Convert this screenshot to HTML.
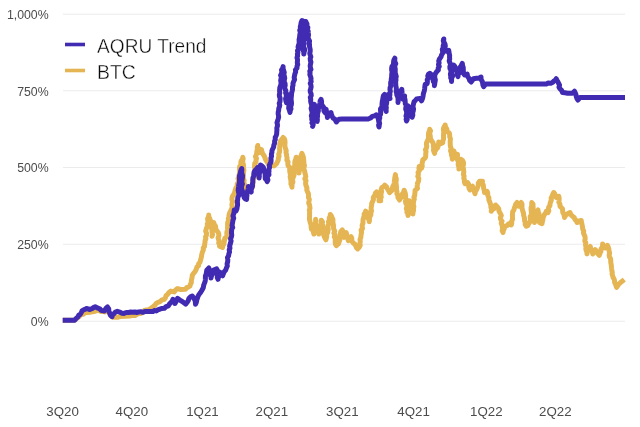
<!DOCTYPE html>
<html><head><meta charset="utf-8"><title>AQRU Trend vs BTC</title>
<style>
html,body{margin:0;padding:0;background:#fff;}
body{width:640px;height:427px;overflow:hidden;position:relative;font-family:"Liberation Sans",sans-serif;}
svg{position:absolute;left:0;top:0;display:block;}
text{font-family:"Liberation Sans",sans-serif;}
.ax{font-size:13.3px;fill:#4c4c4c;}
.ay{font-size:12.3px;}
.lg{font-size:20.5px;fill:#0a0a0a;stroke:#fff;stroke-width:0.4px;}
</style></head><body>
<svg width="640" height="427" viewBox="0 0 640 427">
<rect width="640" height="427" fill="#ffffff"/>
<g stroke="#ebebeb" stroke-width="1.1" fill="none">
<line x1="63" y1="14.3" x2="625" y2="14.3"/>
<line x1="63" y1="90.7" x2="625" y2="90.7"/>
<line x1="63" y1="167.5" x2="625" y2="167.5"/>
<line x1="63" y1="244.3" x2="625" y2="244.3"/>
<line x1="63" y1="321.2" x2="625" y2="321.2"/>
</g>
<g class="ax" text-anchor="end">
<text class="ay" x="48.6" y="19.1">1,000%</text>
<text class="ay" x="48.6" y="95.5">750%</text>
<text class="ay" x="48.6" y="172.3">500%</text>
<text class="ay" x="48.6" y="249.1">250%</text>
<text class="ay" x="48.6" y="326">0%</text>
</g>
<g class="ax" text-anchor="start">
<text x="46.35" y="415.7">3Q20</text>
<text x="115.5" y="415.7">4Q20</text>
<text x="186.2" y="415.7">1Q21</text>
<text x="255.5" y="415.7">2Q21</text>
<text x="326.1" y="415.7">3Q21</text>
<text x="397.35" y="415.7">4Q21</text>
<text x="470" y="415.7">1Q22</text>
<text x="539.1" y="415.7">2Q22</text>
</g>
<path d="M62.7 320.2 L74.7 320.2 L76.31 318.8 L78 317.5 L79.55 316.05 L81 314.5 L83.22 314.16 L85 312.8 L87.5 312.51 L90 312.3 L92 311.91 L94 311.5 L96.04 310.86 L98 310 L101 311.5 L103.05 311.34 L105 312 L108 311 L109.24 313.01 L110.5 315 L112.5 317 L114.25 317.17 L116 317 L118.05 317.13 L120 316.5 L125 316.3 L130 316 L132.45 315.22 L135 315.5 L136.57 314.6 L138.14 313.67 L140 313.5 L141.77 312.98 L143.27 311.97 L144.44 310.35 L146.3 310 L148.45 309.74 L150.34 308.89 L152 307.5 L153.58 306.43 L155 305.16 L156.06 303.48 L157.8 302.6 L160.2 301.5 L161.95 299.84 L164.3 299.3 L165.43 297.69 L166.03 295.71 L167.6 294.4 L168.97 292.47 L170.9 291.1 L174.2 291.9 L175.61 290.01 L177.5 288.6 L180.7 289.5 L185.5 289.2 L186.65 287.64 L188.47 287.03 L190 286 L190.36 284.31 L191.3 282.78 L191.3 281 L191.66 279.04 L192.15 277.1 L192.3 275.1 L193.47 273.47 L194.81 271.96 L195.8 270.2 L196.45 268.6 L196.94 266.93 L198.49 265.74 L198.6 263.9 L199.9 262.39 L200.41 260.56 L200.95 258.75 L201.4 256.9 L201.67 255.06 L202.06 253.25 L202.64 251.5 L203.4 249.8 L203.26 247.91 L204.54 246.34 L204.6 244.5 L205 242.5 L205.09 240.61 L205.89 238.8 L205.51 236.86 L206.47 235.07 L206.54 233.18 L205.67 231.17 L206.16 229.33 L206.75 227.5 L207.56 225.8 L207.28 223.92 L208.22 222.24 L207.76 220.34 L207.63 218.48 L208.63 216.81 L208.75 215 L208.75 216.86 L209.76 218.51 L210.35 220.25 L210.39 222.1 L209.94 224.05 L210.56 225.78 L211.25 227.5 L211.89 229.21 L211.88 230.97 L212.22 232.71 L212.42 234.45 L212 236.25 L212.6 234.58 L212.02 232.76 L212.73 231.1 L212.81 229.37 L212.69 227.61 L213.61 225.98 L213.06 224.16 L213.75 222.5 L214.2 224.43 L215.47 226.09 L215.72 228.09 L216.25 230 L218.25 232.5 L218.78 234.18 L218.86 235.91 L218.11 237.71 L218.48 239.41 L219.28 241.07 L218.69 242.86 L219.72 244.5 L219.5 246.25 L222.5 247.5 L222.87 245.59 L223.95 243.87 L224.18 241.92 L224.5 240 L224.87 238.1 L226.74 236.95 L227 235 L226.81 233.14 L227.05 231.33 L227.9 229.58 L227.51 227.71 L227.65 225.88 L227.54 224.04 L227.74 222.22 L228.56 220.47 L228.3 218.6 L228.95 216.83 L229 215 L229.71 212.85 L230.68 210.81 L231.6 208.75 L232.34 206.98 L231.86 205.11 L232.13 203.29 L232.65 201.5 L231.9 199.61 L232.01 197.79 L232.6 196 L233.95 194.21 L234.71 192.16 L235.2 190 L235.96 187.85 L237.3 186 L237.18 184.11 L238.17 182.38 L238.72 180.59 L238.04 178.61 L239.29 176.92 L239 175 L239.75 173.36 L239.65 171.59 L239.67 169.84 L239.52 168.07 L239.69 166.34 L241.14 164.8 L240.8 163 L241.15 160.96 L242.38 159.22 L242.8 157.2 L243.19 158.97 L242.52 160.78 L242.88 162.54 L243.35 164.31 L243.57 166.08 L242.93 167.89 L243.85 169.64 L243.71 171.43 L243.35 173.22 L243.5 175 L243.17 176.91 L243.6 178.76 L244.16 180.61 L243.46 182.54 L244.51 184.35 L244.88 186.21 L244.67 188.11 L244.5 190 L245.8 191.45 L247 193 L248.1 191.1 L250 190 L250.93 188.23 L252.5 187 L252.58 185.1 L253.09 183.26 L252.78 181.31 L253.32 179.48 L254.25 177.69 L254.62 175.83 L254.45 173.9 L254.5 172 L254.92 170.33 L254.96 168.61 L254.56 166.85 L254.6 165.14 L254.75 163.44 L256.08 161.85 L255.98 160.13 L256.5 158.46 L255.46 156.64 L256.25 155 L256.73 153.13 L256.85 151.2 L257.48 149.35 L257.26 147.36 L257.8 145.5 L257.65 147.42 L259.28 148.86 L259.17 150.77 L259.7 152.5 L261.5 149.7 L261.94 151.46 L262.47 153.19 L263.39 154.74 L264.4 156.25 L265.1 158.28 L265.92 160.25 L267.2 162 L268.21 163.87 L270 165 L272.05 165.31 L274 166 L276.5 163.75 L277.36 161.91 L278.26 160.08 L278.4 158 L279.09 156.19 L278.72 154.27 L279.41 152.46 L279.71 150.61 L279.55 148.71 L279.83 146.85 L279.73 144.95 L280.2 143.12 L280.3 141.25 L281.81 139.46 L283.1 137.5 L284.54 139.13 L285 141.25 L285.03 143.15 L284.79 145.08 L285.15 146.94 L285.56 148.8 L286.22 150.63 L285.98 152.56 L286.5 154.4 L286.66 156.28 L287.1 158.13 L286.84 160.07 L288.08 161.81 L287.8 163.75 L288.13 165.74 L289.65 167.32 L289.7 169.4 L289.75 171.28 L290.08 173.14 L290.59 174.98 L290.16 176.9 L290.6 178.75 L290.88 180.44 L291.01 182.15 L290.9 183.91 L292.03 185.46 L292 187.2 L291.6 185.4 L292.21 183.73 L292.93 182.08 L292.55 180.28 L292.74 178.56 L293.4 176.9 L294.12 175.08 L293.99 173.16 L293.9 171.26 L294.68 169.44 L294.14 167.48 L294.77 165.65 L294.75 163.75 L294.87 161.48 L295.66 159.36 L296.25 157.2 L296.11 158.97 L296.22 160.71 L296.51 162.42 L297.4 164.05 L297.39 165.8 L297.75 167.5 L298.4 169.31 L299.04 171.13 L299 173.1 L299.17 171.22 L299.79 169.39 L299.98 167.52 L299.97 165.63 L300.46 163.78 L299.76 161.82 L299.8 159.94 L300.4 158.1 L301.09 155.73 L301.9 153.4 L302.64 154.97 L303.18 156.6 L303.4 158.32 L303.75 160 L303.75 161.89 L304.07 163.75 L304.46 165.6 L303.94 167.54 L303.92 169.43 L304.7 171.25 L304.91 173.12 L305.55 174.96 L305.76 176.83 L304.82 178.79 L306.04 180.58 L305.6 182.5 L305.71 184.43 L306.27 186.28 L306.98 188.09 L306.75 190.1 L307.5 191.9 L308.42 193.67 L308.57 195.57 L308.46 197.5 L309.31 199.28 L309 201.25 L308.67 203.05 L309.54 204.79 L309.77 206.56 L309.99 208.33 L309.33 210.16 L309.67 211.92 L309.53 213.71 L309.6 215.49 L309.5 217.28 L309.4 219.08 L309.86 220.83 L310.2 222.6 L311.02 224.72 L311.1 226.99 L311.5 229.2 L311.71 227.45 L312.7 226 L313.63 227.91 L313.34 229.99 L313.32 232.04 L313.9 234 L313.7 232.11 L314.03 230.29 L314.34 228.46 L315 226.68 L314.99 224.82 L315.32 222.99 L315.72 221.18 L315.6 219.3 L315.9 221.07 L315.56 222.9 L315.57 224.7 L316.8 226.38 L315.87 228.27 L316.6 230 L317.33 228.06 L317.5 226 L318.32 227.92 L318.26 229.99 L318.39 232.03 L318.9 234 L319.7 232.07 L319.29 229.98 L319.81 228.01 L320 226 L320.91 224.17 L321.24 222.22 L321.3 220.2 L322.5 222 L322.13 223.86 L322.95 225.59 L322.9 227.42 L323.68 229.16 L323.5 231 L323.58 233.18 L323.83 235.34 L324.6 237.4 L325.9 239.8 L326.37 238.07 L326.75 236.33 L326.39 234.47 L327.56 232.85 L327.95 231.11 L328.23 229.36 L327.9 227.5 L328.21 225.61 L328.79 223.75 L328.45 221.77 L329.47 219.97 L329.2 218 L330.19 216.34 L330.3 214.4 L331.33 215.96 L332 217.7 L332.93 219.65 L332.88 221.79 L333.14 223.86 L333.6 225.9 L333.43 227.76 L333.97 229.54 L334.74 231.31 L333.91 233.23 L335.05 234.96 L334.28 236.87 L335.27 238.61 L335.24 240.46 L335.2 242.3 L335.45 244.08 L336.4 245.6 L336.19 243.64 L336.45 241.74 L337.17 239.9 L337.4 238 L337.48 240.02 L337.7 242.01 L338.5 243.9 L339.08 241.96 L339.75 240.04 L339.51 237.96 L340.44 236.08 L340.2 234 L340.77 231.75 L342.3 230 L343.05 231.77 L343.07 233.71 L343.77 235.49 L343.9 237.4 L344.94 235.89 L345.6 234.21 L346.2 232.5 L346.72 234.56 L346.87 236.72 L347.77 238.67 L348.4 240.7 L349.55 238.52 L351.1 236.6 L351.8 238.18 L351.77 239.99 L352.26 241.64 L353.3 243.1 L354.77 244.09 L355.7 245.6 L356.31 247.49 L357.7 248.9 L359.3 247.2 L360.19 245.37 L359.9 243.37 L360.24 241.46 L360.05 239.48 L360.76 237.62 L361 235.7 L361.24 233.88 L361.6 232.07 L361.09 230.16 L362.54 228.49 L362.19 226.59 L362.27 224.75 L363.02 222.99 L362.95 221.13 L363.1 219.3 L363.59 217.66 L364.34 216.09 L364.06 214.22 L365.15 212.75 L365.6 211.1 L367.5 212.8 L367.95 214.58 L367.6 216.51 L367.98 218.3 L369.15 219.94 L369.2 221.8 L369.49 219.99 L369.36 218.12 L370.08 216.38 L370.88 214.67 L370.8 212.8 L371.52 211.08 L371.17 209.25 L371.16 207.45 L371.6 205.7 L371.63 203.57 L372.6 201.63 L373.42 199.66 L373.3 197.5 L375 195 L375.37 193.18 L376.6 191.8 L377.8 194 L377.74 195.76 L379.01 197.29 L379.09 199.03 L379 200.8 L380.7 200.8 L380.5 198.9 L381.26 197.08 L380.94 195.17 L381.14 193.3 L381.64 191.46 L381.13 189.53 L381.8 187.7 L383.47 186.68 L384.75 185.2 L386.37 186.56 L387.2 188.5 L388.44 190.56 L389.7 192.6 L392.1 190.2 L392.34 188.26 L392.82 186.39 L393.79 184.66 L394.3 182.8 L394.49 180.74 L394.69 178.68 L395.01 176.64 L395.4 174.6 L395.53 176.47 L396.18 178.3 L396.3 180.18 L395.92 182.1 L396.08 183.97 L396.39 185.83 L396.6 187.7 L396.41 189.72 L396.98 191.64 L396.92 193.64 L397.98 195.49 L397.9 197.5 L399.5 200 L400.62 198.23 L401.54 196.36 L402 194.3 L403.52 192.49 L404.1 190.2 L404.86 192.04 L405.4 193.93 L405.7 195.9 L405.29 197.76 L406.33 199.52 L405.45 201.41 L405.73 203.23 L406.84 204.98 L406.84 206.81 L406.34 208.68 L407.08 210.45 L406.9 212.3 L407.95 213.78 L408 215.6 L408.59 213.79 L408.22 211.89 L408.86 210.08 L408.17 208.16 L408.69 206.34 L409.21 204.52 L408.51 202.6 L409.3 200.8 L410.33 202.29 L410.41 204.16 L411.3 205.7 L411.18 207.85 L411.5 209.92 L412.99 211.75 L412.9 213.9 L413.08 212.06 L413.58 210.26 L413.43 208.39 L413.84 206.57 L413.37 204.67 L413.39 202.82 L413.62 200.99 L414.3 199.2 L413.86 197.35 L414.69 195.61 L414.8 193.8 L415.03 192.01 L415.1 190.2 L417.5 188.5 L417.15 186.73 L417.32 185 L417.45 183.26 L418.39 181.58 L418.7 179.85 L418.73 178.11 L417.76 176.3 L418.4 174.6 L418.03 172.49 L419.38 170.56 L418.95 168.45 L419.2 166.4 L421.6 168 L422.24 166 L421.98 163.87 L422.46 161.84 L422.8 159.8 L424.9 158.2 L425.6 157 L425.73 155.2 L425.74 153.39 L426.07 151.61 L425.43 149.76 L426.43 148.02 L426.73 146.23 L426.4 144.4 L426.54 142.64 L427.41 141.11 L428 139.5 L428.59 137.85 L428.45 136.08 L428.46 134.33 L428.7 132.63 L429.43 131 L429.7 129.3 L430.54 130.92 L429.63 132.76 L429.96 134.45 L430.3 136.13 L430.32 137.86 L431 139.5 L431.86 141.24 L433 142.8 L433.39 144.55 L433.41 146.35 L433.79 148.1 L433.45 149.96 L433.94 151.69 L434.6 153.4 L434.69 151.48 L435.92 149.81 L436.11 147.92 L436.2 146 L437.4 148 L438.19 146.08 L438.67 144.09 L438.7 142 L441.1 143.6 L442.8 142.8 L442.78 140.94 L443.51 139.13 L443.59 137.28 L443.45 135.41 L443.65 133.57 L443.74 131.72 L443.38 129.84 L443.6 128 L445.2 125 L445.49 127.18 L446.87 129.05 L446.9 131.3 L449.3 133 L449.68 134.94 L449.7 136.92 L450.47 138.82 L450.21 140.82 L450.2 142.8 L450.24 144.78 L450.48 146.74 L451.21 148.64 L450.51 150.7 L451.3 152.6 L451.42 154.83 L452.18 156.97 L452.3 159.2 L452.9 157.19 L453.19 155.12 L453.54 153.06 L453.9 151 L454.61 153.13 L454.4 155.5 L455.6 157.5 L456.71 155.99 L457.5 154.3 L457.41 156.16 L457.51 158.01 L457.4 159.87 L458.82 161.59 L458.23 163.5 L458.24 165.35 L459.04 167.13 L458.9 169 L459.15 167.02 L459.09 164.97 L459.65 163.04 L460.26 161.13 L460.8 159.2 L462.8 160.8 L463.49 162.67 L463.46 164.61 L462.77 166.6 L463.4 168.47 L463.62 170.38 L463.8 172.3 L463.4 174.27 L464.11 176.13 L463.76 178.09 L464.42 179.95 L464.4 181.88 L465 183.75 L467.5 182.5 L468.65 184.2 L468.63 186.29 L469.06 188.23 L470 190 L470.76 187.8 L472.5 186.25 L472.59 188.3 L474.17 189.86 L474.41 191.86 L475 193.75 L475.43 191.51 L476.66 189.58 L477.5 187.5 L478.3 185.46 L478.29 183.16 L479.5 181.25 L482.5 181.25 L482.26 183.23 L483.27 184.98 L483.47 186.88 L483.71 188.77 L484.34 190.59 L484.5 192.5 L487 191.25 L487.69 192.85 L487.64 194.63 L488.17 196.27 L488.94 197.85 L488.81 199.65 L489.5 201.25 L490.11 203.2 L490.82 205.14 L490.88 207.19 L491.49 209.15 L491.25 211.25 L492.18 209.68 L493.75 208.75 L494.92 207.01 L495.5 205 L497.23 206.78 L498.75 208.75 L498.85 210.59 L499.61 212.19 L500.5 213.75 L501.33 215.55 L500.37 217.58 L500.68 219.45 L502.05 221.18 L501.23 223.19 L502 225 L502.34 226.86 L502.53 228.75 L502.14 230.71 L503 232.5 L503.35 230.32 L504.36 228.34 L505 226.25 L507.19 225.47 L508.75 223.75 L511.25 225 L511.75 223.16 L511.63 221.25 L512.49 219.44 L512.49 217.55 L512.43 215.64 L512.5 213.75 L512.65 211.72 L513.9 210.05 L514.32 208.11 L515 206.25 L515.66 204.19 L517 202.5 L518.4 204.13 L518.75 206.25 L520.03 204.4 L521.25 202.5 L522.04 204.29 L521.95 206.24 L521.97 208.16 L522.5 210 L522.96 211.74 L523.6 213.43 L523.6 215.27 L524.2 216.98 L524.5 218.75 L524.59 220.71 L525.34 222.51 L525.18 224.52 L526.25 226.25 L527.92 225.42 L528.75 223.75 L529.9 222 L530.5 220 L530.29 218.23 L530.25 216.46 L531.38 214.79 L531.37 213.03 L531.29 211.26 L531.07 209.49 L531.08 207.73 L531.74 206.02 L531.71 204.26 L531.75 202.5 L533 204 L533.03 205.86 L533.13 207.71 L533.12 209.58 L534 211.37 L534.08 213.22 L533.28 215.15 L533.51 216.99 L533.71 218.84 L534.95 220.6 L534.5 222.5 L534.29 220.64 L534.91 218.94 L535.45 217.23 L536.06 215.53 L536.25 213.75 L536.66 211.66 L538 210 L538.16 211.79 L538.98 213.51 L539.18 215.29 L538.63 217.17 L539.01 218.94 L539.12 220.73 L539.5 222.5 L542 223.75 L542.28 221.84 L542.85 219.99 L542.95 218.04 L543.75 216.25 L544.4 214.49 L545.7 213.06 L546.25 211.25 L548 212.5 L548.83 210.85 L548.26 208.88 L548.72 207.14 L549.99 205.59 L550 203.75 L550.66 201.92 L551.34 200.09 L551.14 198.03 L552 196.25 L552.79 194.33 L553.75 192.5 L554.86 194.03 L555.06 196.01 L556.25 197.5 L558.75 196.25 L559.17 198.23 L559.05 200.27 L558.87 202.33 L559.98 204.22 L560 206.25 L561.21 207.54 L562.5 208.75 L562.59 210.57 L562.77 212.37 L563.79 213.98 L564.27 215.71 L564.5 217.5 L565.59 215.3 L567.5 213.75 L570 212.5 L570.84 214.65 L572.5 216.25 L574.18 217.54 L575 219.5 L576.45 220.7 L577 222.5 L579.5 221 L581.25 220.5 L581.58 222.68 L582.1 224.83 L582.5 227 L582.71 229.05 L583.66 230.94 L583.5 233.08 L584.3 235 L585.09 236.93 L585.15 238.96 L584.81 241.03 L585.8 242.94 L585.5 245 L586.05 246.76 L585.81 248.65 L586.15 250.44 L586.98 252.15 L587 254 L587.32 251.84 L588.5 250 L589.24 248.17 L590.3 246.5 L590.62 248.35 L591.5 250 L592.32 251.95 L592.8 254 L593.56 251.56 L595.2 249.6 L597 252 L597.93 253.81 L599.3 255.3 L599.95 253.22 L600.96 251.24 L601 249 L602.08 247.51 L602.58 245.83 L602.6 244 L603.92 245.96 L605.1 248 L606.58 247.02 L607.5 245.5 L608.31 247.33 L608.86 249.23 L609.2 251.2 L609.6 253.1 L609.17 255.11 L609.49 257.02 L610.59 258.82 L610.71 260.76 L610.8 262.7 L611.19 264.6 L611.41 266.51 L611.58 268.43 L611.81 270.35 L612.28 272.24 L612.1 274.2 L612.69 275.83 L613.08 277.55 L614.1 279 L614.52 280.68 L614.61 282.45 L615.5 284 L615.97 285.68 L616.6 287.3 L618.5 284.5 L620.5 282.5 L622.5 281 L624.3 279.6" fill="none" stroke="#e5b553" stroke-width="5" stroke-linejoin="round" stroke-linecap="butt"/>
<path d="M62.7 320.2 L74.7 320.2 L76.19 318.39 L78 316.9 L78.71 315.25 L80.29 314.29 L81.2 312.8 L82.02 310.94 L83.7 309.8 L85.37 309.14 L87 308.4 L89.4 309.5 L91.9 308.7 L93.46 307.6 L95.2 306.8 L98 308.2 L99.79 308.78 L100.9 310.3 L104.2 311.1 L105.16 309.66 L106.1 308.2 L107.5 307 L108.72 308.87 L108.8 311.1 L109.68 313.12 L110.4 315.2 L112 316.7 L112.53 314.85 L114 313.6 L115.35 312.01 L117.3 311.3 L118.98 311.81 L120.6 312.5 L122.14 313.36 L123.9 313.4 L126.26 312.47 L128.8 312.5 L130.77 311.97 L132.81 312.33 L134.8 312 L136.8 312.5 L138.76 311.94 L140.73 311.63 L142.74 312.3 L144.7 311.6 L152.9 311.6 L154.34 310.48 L156.32 310.91 L157.8 309.9 L159.9 309.1 L162.02 308.38 L164.3 308.3 L166.09 306.63 L168.4 305.8 L169.45 304 L170.9 302.5 L172.25 301.12 L172.9 299.3 L174.32 301.16 L175 303.4 L175.93 301.78 L176.83 300.15 L177.5 298.4 L179.9 300.1 L182.4 301.7 L184.15 302.82 L185.7 304.2 L186.95 302.59 L188.1 300.9 L188.86 298.55 L190.6 296.8 L192.2 296 L193.9 298.4 L194.99 300.18 L195.34 302.17 L195.5 304.2 L196.39 302.21 L196.74 300.04 L197.5 298 L198.03 296.15 L199 294.5 L200.34 292.81 L201.5 291 L202.35 289.35 L203.3 287.75 L203.65 285.31 L204.5 283 L205.18 281.37 L205.35 279.64 L205.4 277.9 L205.42 275.92 L206.2 274.07 L206.48 272.13 L206.8 270.2 L208.9 268 L208.77 269.77 L209.31 271.39 L210.22 272.94 L209.69 274.79 L211.14 276.23 L211 278 L211.42 276.02 L212.37 274.19 L212.14 272.03 L213.1 270.2 L214.84 269.49 L216.6 268.8 L217.43 270.47 L216.85 272.33 L216.96 274.1 L217.44 275.81 L217.28 277.61 L218 279.3 L218.29 277.48 L219.29 275.87 L219.69 274.09 L220.1 272.3 L221.27 274.11 L222.6 275.8 L223.4 273.68 L224.3 271.6 L225.73 270.02 L226.4 268 L227.32 266.02 L227.07 263.84 L227.66 261.81 L227.8 259.7 L227.51 257.64 L228.62 255.78 L228.83 253.79 L229.55 251.87 L229.2 249.8 L229.96 248.13 L229.63 246.25 L230.1 244.52 L230.6 242.8 L231.1 240.88 L230.56 238.81 L231.41 236.94 L231.75 235 L231.48 233.09 L231.57 231.21 L231.65 229.33 L232.72 227.53 L232.05 225.58 L232.36 223.72 L232.7 221.86 L233 220 L233.73 218.06 L232.96 215.93 L233.68 213.99 L234.06 212.01 L234.25 210 L236 211 L236.86 209.09 L237.16 207.08 L237.59 205.09 L237.5 203 L237.38 201.14 L237.72 199.32 L237.82 197.48 L238.66 195.71 L238.93 193.89 L238.5 192 L238.19 190.25 L238.37 188.54 L238.58 186.83 L238.73 185.11 L239.19 183.43 L239.47 181.72 L239.5 180 L239.44 177.96 L239.36 175.92 L240.15 173.99 L240.5 172 L240.94 170.19 L241.7 168.5 L241.84 170.39 L241.57 172.32 L242.13 174.15 L242.6 176 L242.38 178 L242.05 179.98 L241.77 181.98 L242.38 184.06 L241.6 186 L241.49 188.1 L242.04 190.07 L242.8 192 L242.8 194.11 L243.75 196 L244.29 197.7 L245.5 199 L246.6 199.4 L246.71 197.28 L246.97 195.18 L246.84 193.04 L247.6 191 L248.17 188.78 L248.4 186.5 L249.72 188.01 L250 190 L251.25 192 L251.15 189.88 L251.78 187.92 L252.6 186 L252.4 183.95 L252.87 181.98 L252.74 179.93 L252.91 177.92 L253.8 176 L253.76 174.07 L254.09 172.22 L255 170.5 L256.5 169 L257.8 167.5 L258.19 169.23 L258.85 170.92 L257.97 172.81 L258.52 174.52 L259.34 176.19 L259.1 178 L258.99 176.11 L259.33 174.26 L259.57 172.41 L259.47 170.52 L260.62 168.77 L261.02 166.93 L260.6 165 L262 166 L263.4 167.5 L263.76 169.37 L264.05 171.25 L264.88 173.04 L265.18 174.91 L265.19 176.84 L265.3 178.75 L266.5 180.01 L267.2 181.6 L267.92 179.95 L267.37 178.07 L267.49 176.32 L268.98 174.8 L268.74 172.98 L269 171.25 L268.82 169.31 L269.6 167.5 L269.21 165.53 L270.12 163.74 L270.97 161.95 L271.1 160.05 L270.9 158.1 L271.53 156.28 L271.36 154.3 L271.87 152.46 L272 150.53 L272.8 148.75 L273.64 146.97 L273.84 145.02 L274.65 143.23 L274.59 141.21 L275.3 139.4 L275.19 137.45 L276.2 135.65 L276.68 133.78 L276.75 131.86 L276.94 129.95 L276.8 128 L277.39 126.29 L277.46 124.53 L276.97 122.71 L277.5 121 L278.07 119.21 L278.6 117.4 L278.5 115.65 L278.16 113.88 L278.24 112.14 L278.66 110.41 L278.72 108.67 L279.36 106.96 L279.79 105.23 L279.22 103.45 L279.94 101.74 L280.09 100 L280.13 98.26 L279.45 96.48 L279.35 94.73 L279.8 93 L279.58 91.2 L279.67 89.43 L279.81 87.66 L280.48 85.93 L280.97 84.19 L281.03 82.42 L280.69 80.61 L281.04 78.86 L281.37 77.11 L280.57 75.27 L281.45 73.55 L281.9 71.81 L281.5 70 L282.63 68.46 L283.1 66.6 L283.04 68.6 L283.65 70.52 L284.29 72.43 L283.77 74.49 L284.4 76.4 L284.75 78.21 L284.28 80.07 L284.19 81.91 L285.07 83.68 L285.19 85.5 L284.62 87.38 L285.04 89.18 L285.89 90.95 L285.6 92.8 L286.24 94.72 L286.37 96.68 L285.56 98.72 L285.84 100.67 L286.4 102.6 L286.27 100.48 L287.47 98.57 L287.99 96.55 L287.7 94.4 L287.7 96.34 L288.29 98.21 L288.24 100.16 L288.98 102.02 L289.33 103.92 L288.9 105.9 L288.66 108.2 L289.44 110.33 L290 112.5 L290.25 110.59 L290.99 108.73 L290.56 106.74 L291.35 104.89 L291.5 102.96 L291.3 101 L291.09 98.99 L291.3 97.01 L291.51 95.04 L291.6 93.05 L292.1 91.1 L292.55 89.16 L292.47 87.13 L293.02 85.2 L292.99 83.18 L293.8 81.3 L294.59 79.46 L294.15 77.44 L294.55 75.54 L294.97 73.65 L295.65 71.79 L295.4 69.8 L297 68 L297 66.27 L297.74 64.59 L297.3 62.83 L297.44 61.11 L297.53 59.39 L296.98 57.63 L297.62 55.94 L297.39 54.2 L297.9 52.5 L297.46 50.58 L298.69 48.84 L298.08 46.9 L298.67 45.1 L299.19 43.28 L299.17 41.41 L299.08 39.53 L299.5 37.7 L299.71 35.89 L299.94 34.08 L300.42 32.29 L299.73 30.39 L300.51 28.64 L300.29 26.78 L300.8 25 L301.12 22.68 L302 20.5 L303 21 L302.69 22.75 L303.07 24.47 L303.05 26.21 L302.83 27.96 L302.67 29.7 L303.33 31.42 L303.15 33.16 L303.33 34.89 L303.36 36.63 L303.17 38.37 L303.53 40.1 L303.46 41.84 L303.58 43.58 L303.02 45.33 L303.37 47.06 L303.18 48.8 L303.14 50.54 L304.07 52.26 L303.8 54 L303.96 52.29 L304.55 50.6 L304.5 48.88 L303.67 47.12 L303.74 45.4 L304.24 43.71 L303.85 41.97 L304.15 40.27 L304.02 38.54 L304.88 36.87 L305.11 35.16 L305.34 33.45 L304.47 31.69 L305 30 L305.44 28.33 L305.53 26.62 L305.02 24.86 L306.14 23.25 L305.8 21.5 L307 24 L306.66 25.89 L307.88 27.55 L307.2 29.48 L308.17 31.18 L308.3 33 L308.52 35 L308.07 37.06 L308.47 39.04 L309.54 40.96 L309.3 43 L309.52 44.71 L309.54 46.43 L309.89 48.13 L310.21 49.83 L310.18 51.55 L309.78 53.31 L310.2 55 L310.85 56.77 L310.18 58.57 L310.35 60.35 L310.93 62.12 L310.54 63.91 L310.19 65.7 L310.36 67.48 L310.97 69.26 L309.79 71.06 L310.08 72.84 L309.86 74.63 L310.5 76.4 L311.04 78.14 L310.86 79.89 L311.18 81.63 L310.24 83.39 L310.93 85.13 L311.14 86.87 L310.79 88.63 L310.18 90.38 L310.33 92.13 L311.08 93.86 L311.25 95.61 L310.28 97.37 L310.75 99.11 L310.61 100.86 L310.9 102.6 L311.58 104.48 L311.77 106.39 L311.11 108.37 L311.6 110.26 L312.2 112.14 L311.8 114.1 L311.35 115.89 L311.85 117.63 L311.75 119.4 L312.8 121.09 L311.91 122.92 L313.05 124.61 L312.6 126.4 L313.18 124.66 L312.77 122.85 L312.73 121.07 L313.13 119.32 L313.72 117.58 L312.98 115.75 L313.4 114 L313.1 112.02 L313.79 110.12 L313.6 108.15 L313.61 106.19 L314.3 104.3 L315.38 106.64 L315.6 109.2 L316.41 110.88 L316.44 112.66 L316.53 114.44 L316.77 116.2 L316.41 118.03 L317.24 119.71 L317.2 121.5 L317.4 119.72 L317.18 117.89 L317.6 116.13 L317.38 114.3 L317.88 112.55 L318.4 110.8 L318.18 108.63 L319.5 106.76 L319.67 104.66 L320 102.6 L320.17 100.82 L321.1 99.3 L321.6 101.49 L321.48 103.82 L322.5 105.9 L323.63 107.36 L323.8 109.2 L323.96 110.98 L324.9 112.5 L325.42 110.82 L326.1 109.2 L326.43 111.25 L326.32 113.37 L327.21 115.33 L327.4 117.4 L328.36 115.35 L329.3 113.3 L331 112.5 L331.42 114.62 L332.3 116.6 L333.12 118.25 L334.8 119 L336.4 122 L337.5 120.51 L338.9 119.3 L342.1 119 L368.2 119 L370.48 118.06 L372.3 116.4 L374.45 115.85 L376.4 114.8 L378 116 L377.99 117.85 L378.46 119.66 L378.7 121.48 L379.24 123.28 L379.31 125.12 L379 127 L378.6 125.15 L379.63 123.43 L379.16 121.57 L379.2 119.76 L379.8 118 L379.4 116.16 L380.52 114.43 L380.7 112.64 L380.58 110.82 L380.5 109 L382.1 106.6 L382 104.75 L382.13 102.93 L382.37 101.11 L382.77 99.31 L383 97.5 L383.41 95.79 L384.6 94.5 L385 96.32 L385.57 98.11 L385.6 100 L385.1 101.95 L385.19 103.87 L385.84 105.75 L386.33 107.65 L385.5 109.61 L386.2 111.5 L386.07 109.57 L386.25 107.66 L385.9 105.71 L386.51 103.82 L386.75 101.91 L386.9 100 L387.24 98.17 L387.18 96.26 L387.9 94.5 L388.94 96.5 L390 98.5 L389.47 96.67 L389.92 94.91 L389.81 93.11 L390.33 91.35 L389.98 89.53 L390.07 87.75 L390.8 86 L390.66 84.2 L390.67 82.42 L391.24 80.66 L391.27 78.88 L391.67 77.11 L391.66 75.32 L391.84 73.54 L392.16 71.78 L391.64 69.95 L391.67 68.17 L392 66.4 L393.33 64.95 L393.5 63 L393.76 60.47 L394.9 58.2 L394.7 60.04 L394.89 61.85 L395.76 63.64 L394.82 65.51 L394.84 67.34 L395.27 69.14 L395.22 70.97 L395.21 72.8 L395.7 74.6 L396.26 76.42 L395.84 78.28 L395.96 80.11 L395.62 81.97 L395.74 83.81 L395.8 85.65 L396.2 87.47 L396.4 89.3 L396.12 91.25 L396.62 93.1 L396.84 94.99 L397.66 96.8 L398.15 98.66 L398.24 100.56 L398 102.5 L398.08 100.5 L398.01 98.47 L399.21 96.62 L399.12 94.59 L399.3 92.6 L400.68 91.05 L401.8 89.3 L401.88 91.3 L402.05 93.29 L402.53 95.24 L403.4 97.14 L403 99.2 L404.15 97.72 L404.6 95.9 L404.5 97.85 L405.03 99.73 L405.2 101.66 L405.26 103.59 L406.24 105.42 L405.9 107.4 L405.67 109.11 L406.37 110.79 L406.68 112.48 L406.5 114.19 L405.98 115.91 L406.73 117.58 L406.11 119.31 L406.5 121 L407.27 119.36 L406.8 117.6 L406.81 115.89 L407.1 114.2 L407.52 112.52 L407.78 110.83 L407.74 109.11 L407.93 107.42 L407.9 105.7 L409.06 107.15 L409.2 109 L410.18 111.09 L410.58 113.32 L410.8 115.6 L412.1 117.2 L412.81 115.09 L412.65 112.82 L413.3 110.7 L413.55 108.89 L412.99 107 L413.21 105.19 L413.64 103.39 L414.1 101.6 L415.51 100.4 L416.6 98.9 L419.8 98.4 L421.5 100.8 L422.27 99.24 L422.78 97.6 L423.1 95.9 L423.44 93.39 L424.3 91 L424.62 88.8 L424.85 86.59 L425.2 84.4 L427.2 83.6 L427.4 81.73 L427.19 79.82 L428.43 78.09 L427.77 76.11 L428.4 74.3 L429.8 73.3 L431.8 74.9 L433.4 77.4 L433.03 79.53 L433.34 81.57 L434.77 83.47 L434.4 85.6 L434.46 83.68 L435.05 81.79 L435.36 79.89 L434.8 77.93 L434.68 76 L435.1 74.1 L436.7 71.6 L438.4 70 L438.17 68.19 L439.28 66.48 L438.48 64.62 L439.11 62.88 L438.69 61.04 L439.3 59.3 L441 56.9 L441.56 54.97 L442.63 53.19 L442.6 51.1 L442.3 49.32 L443.36 47.68 L443.13 45.92 L443.79 44.24 L443.72 42.48 L443.28 40.69 L443.8 39 L443.51 40.84 L444.26 42.56 L445.07 44.26 L445.32 46.04 L444.9 47.9 L445.56 49.5 L446.2 51.1 L448.7 50.3 L448.92 52.05 L449.27 53.79 L449.64 55.53 L449.53 57.31 L449.72 59.06 L449.2 60.88 L449.8 62.6 L450.64 64.51 L449.88 66.59 L449.96 68.58 L451.09 70.47 L450.8 72.5 L450.39 74.34 L450.8 76.12 L450.7 77.94 L451.63 79.68 L451.5 81.5 L451.48 79.73 L451.65 77.97 L452.57 76.28 L452.19 74.48 L452.03 72.7 L452.26 70.95 L452.5 69.2 L452.77 67.07 L453.6 65.1 L454.93 66.49 L455.2 68.4 L456.9 70.8 L457.78 72.64 L457.21 74.75 L458 76.6 L458.05 74.7 L459.21 73 L458.65 70.99 L459.3 69.2 L459.88 67.41 L461 65.9 L462.3 63.4 L462.56 65.45 L463.25 67.45 L463.29 69.53 L463.4 71.6 L463.44 73.45 L464.6 74.9 L467.2 74.1 L467.59 76.34 L468.9 78.2 L469.65 80.3 L471.1 82 L472.34 80.44 L473.3 78.7 L476.6 78.2 L478.94 78.12 L481 77 L481.1 79.41 L482.3 81.5 L482.67 83.22 L482.89 84.97 L483.6 86.6 L485.6 84.1 L546.25 84.1 L548.19 83 L550.49 83.33 L552.5 82.5 L553.7 81.2 L555.23 80.23 L556.25 78.75 L556.96 80.46 L558 82 L558.77 83.61 L559.56 85.21 L558.97 87.22 L560 88.75 L561.65 90.36 L562.5 92.5 L565.01 92.84 L567.5 93.25 L572.5 93.25 L574.5 91.25 L575.28 92.85 L575.91 94.5 L576.25 96.25 L576.84 98.26 L578 100 L580 97.5 L625 97.5" fill="none" stroke="#422bb3" stroke-width="5" stroke-linejoin="round" stroke-linecap="butt"/>
<line x1="65" y1="44.5" x2="85" y2="44.5" stroke="#422bb3" stroke-width="3.6"/>
<line x1="65" y1="70.5" x2="85" y2="70.5" stroke="#e5b553" stroke-width="3.6"/>
<text class="lg" transform="translate(97.1,52.9) scale(0.932,1)">AQRU Trend</text>
<text class="lg" transform="translate(96.9,79.4) scale(0.95,1)">BTC</text>
</svg>
</body></html>
